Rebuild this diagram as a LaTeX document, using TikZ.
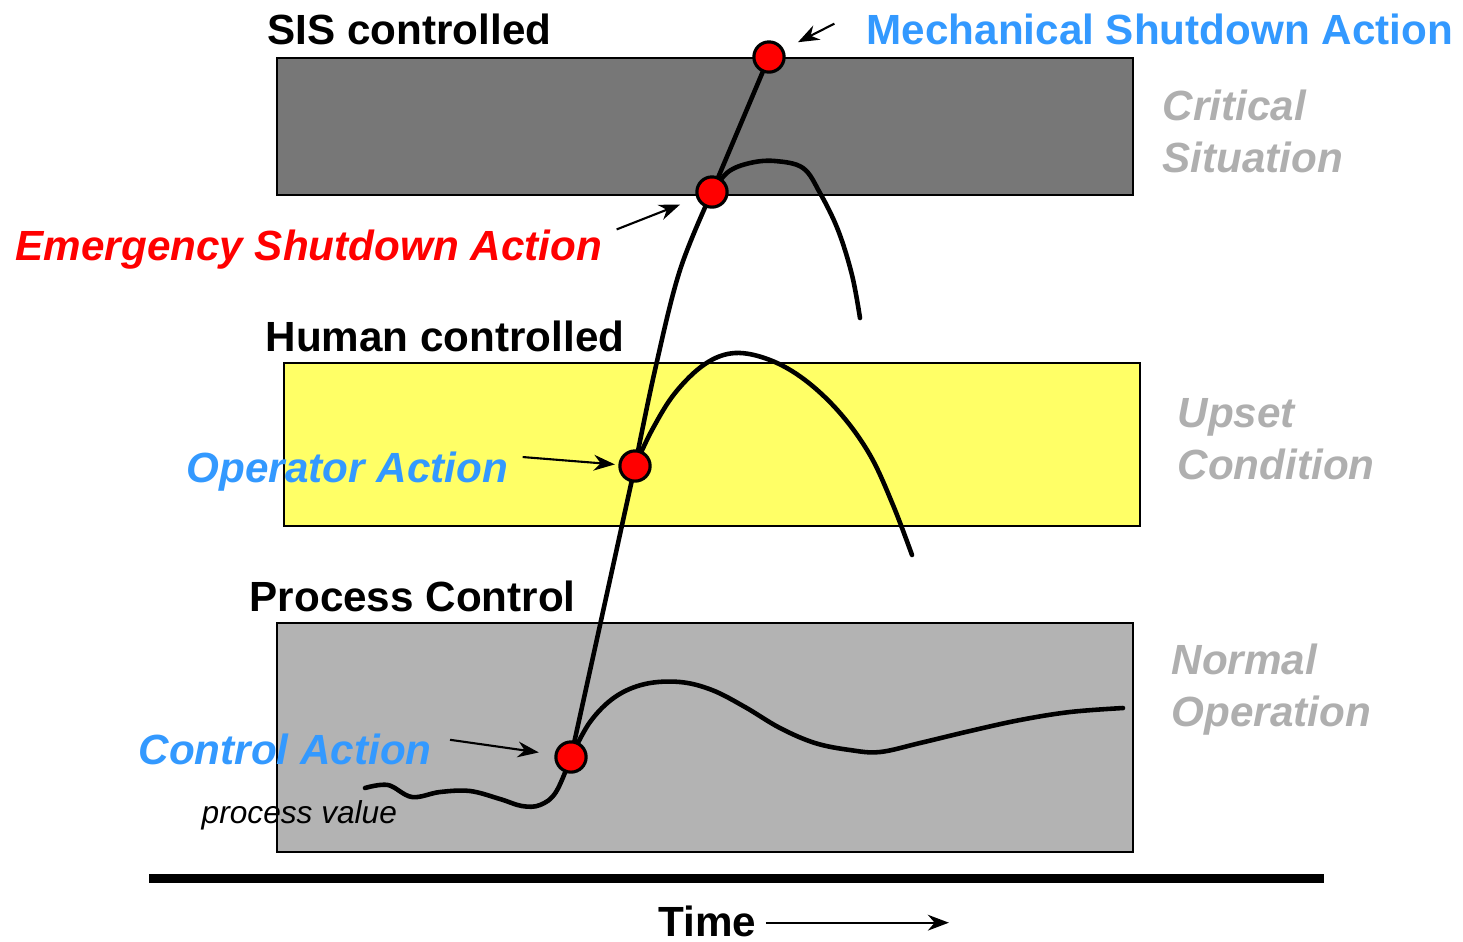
\documentclass[tikz,border=0pt]{standalone}
\usepackage{fontspec}
\setmainfont{Liberation Sans}
\usetikzlibrary{arrows.meta, positioning, calc}
\definecolor{sisgrey}{HTML}{777777}
\definecolor{pcgrey}{HTML}{B3B3B3}
\definecolor{upsetyel}{HTML}{FFFF66}
\definecolor{actblue}{HTML}{3399FF}
\definecolor{zonegrey}{HTML}{AFAFAF}

\begin{document}
\begin{tikzpicture}[x=0.01cm, y=-0.01cm,
    lab/.style={anchor=base west, inner sep=0pt, font=\fontsize{12}{14.8}\selectfont\bfseries},
    act/.style={lab, font=\fontsize{12}{14.8}\selectfont\bfseries\itshape},
    zone/.style={act, text=zonegrey, anchor=west, align=left},
    band/.style={draw=black, line width=0.6pt},
    pv/.style={line width=1.3pt, line cap=round, line join=round},
    dot/.style={circle, draw=black, fill=red, line width=0.9pt, minimum size=8.6pt, inner sep=0pt},
    ptr/.style={-{Stealth[length=6pt, width=4.5pt]}, line width=0.6pt}]
  \useasboundingbox (0,0) rectangle (1463,941);

  % bands
  \draw[band, fill=sisgrey] (277,58) rectangle (1133,195);
  \draw[band, fill=upsetyel] (284,363) rectangle (1140,526);
  \draw[band, fill=pcgrey] (277,623) rectangle (1133,852);
  \fill (149,874) rectangle (1324,883);

  % zone titles
  \node[lab] (sis) at (267,44) {SIS controlled};
  \node[lab] (human) at (265,351) {Human controlled};
  \node[lab] (pc) at (249,611) {Process Control};
  \foreach \nm/\x/\y/\txt in {crit/1162/131/{Critical\\Situation},
                              upset/1177/439/{Upset\\Condition},
                              normal/1171/690/{Normal\\Operation}}{%
    \node[zone] (\nm) at (\x,\y) {\txt};}

  % points where action is taken
  \coordinate (c1) at (571,757);
  \coordinate (c2) at (635,466);
  \coordinate (c3) at (712,192);
  \coordinate (c4) at (769,57);

  % process value
  \draw[pv] plot[smooth, tension=0.6] coordinates {(365,788) (388,785) (412,797) (440,792)
      (470,791) (500,799) (522,806) (540,805) (556,792) (c1)}
    -- (c2) plot[smooth, tension=0.6] coordinates {(c2) (655,370) (680,270) (c3)} -- (c4);
  \draw[pv] plot[smooth, tension=0.6] coordinates {(c1) (590,722) (615,697) (645,684) (680,682)
      (712,690) (745,707) (780,728) (815,743) (850,750) (880,752) (920,743) (970,731)
      (1020,720) (1070,712) (1123,708)};
  \draw[pv] plot[smooth, tension=0.6] coordinates {(c2) (652,430) (675,393) (705,364) (735,353)
      (770,360) (805,380) (840,413) (870,455) (893,505) (912,555)};
  \draw[pv] plot[smooth, tension=0.6] coordinates {(c3) (728,172) (750,163) (775,161) (803,168)
      (820,193) (838,230) (852,275) (860,318)};

  \node[dot] (ctrl) at (c1) {};
  \node[dot] (oper) at (c2) {};
  \node[dot] (esd) at (c3) {};
  \node[dot] (mech) at (c4) {};

  % actions
  \node[lab, text=actblue] (mechlab) at (866,44) {Mechanical Shutdown Action};
  \node[act, text=red] (esdlab) at (15,260) {Emergency Shutdown Action};
  \node[act, text=actblue] (operlab) at (186,482) {Operator Action};
  \node[act, text=actblue] (ctrllab) at (138,764) {Control Action};
  \node[anchor=base west, inner sep=0pt, font=\fontsize{9}{11}\selectfont\itshape]
    (pvlab) at (201,823) {process value};

  \draw[ptr, shorten >=4.5pt] ([xshift=-9pt, yshift=1.5pt]mechlab.west) -- (mech);
  \draw[ptr, shorten >=5pt] ([xshift=4pt, yshift=5.6pt]esdlab.east) -- (esd);
  \draw[ptr, shorten >=1pt] ([xshift=4pt, yshift=4pt]operlab.east) -- (oper);
  \draw[ptr, shorten >=4.5pt] ([xshift=5pt, yshift=2.6pt]ctrllab.east) -- (ctrl);

  % time axis
  \node[lab] (time) at (658,936) {Time};
  \draw[ptr] ([xshift=2.5pt, yshift=-0.5pt]time.east) -- ++(183,0);
\end{tikzpicture}
\end{document}
